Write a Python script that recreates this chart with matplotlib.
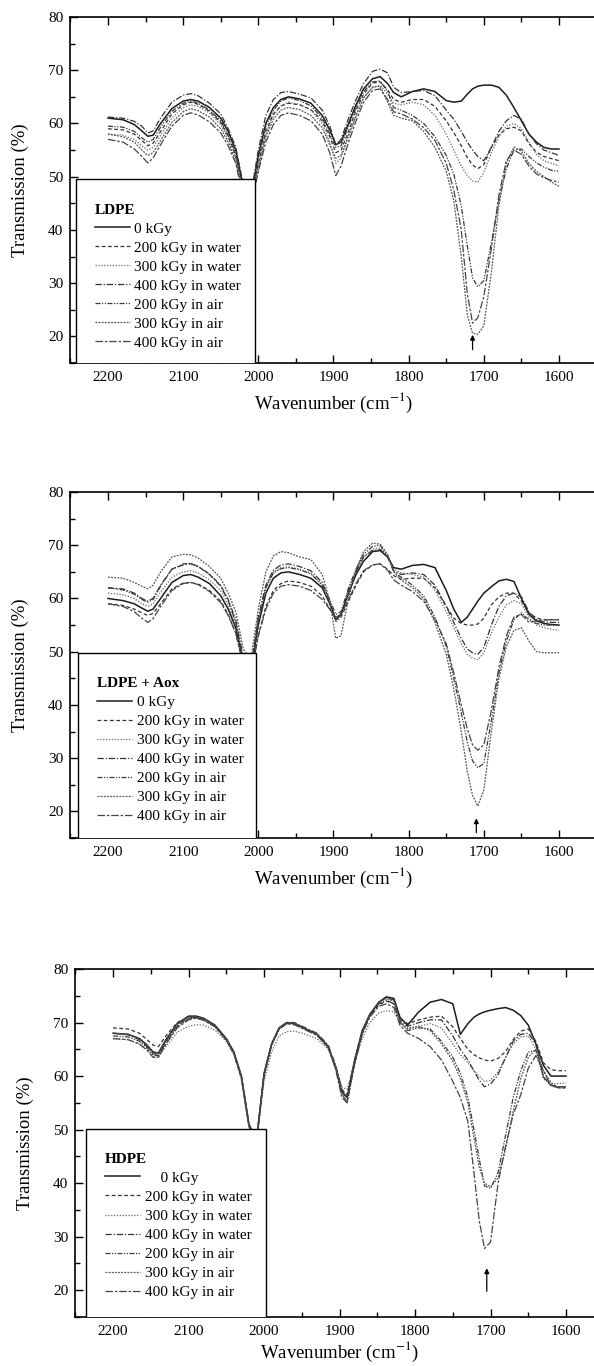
import numpy as np
import matplotlib.pyplot as plt
from matplotlib.patches import Rectangle
from matplotlib.ticker import MultipleLocator

plt.rcParams['font.family'] = ['Liberation Serif', 'DejaVu Serif']
plt.rcParams['mathtext.fontset'] = 'stix'

# abscisse commune (cm-1)
wavenumber = [2200, 2180, 2165, 2155, 2147, 2140, 2130, 2115, 2100, 2090,
              2080, 2065, 2050, 2040, 2030, 2020, 2010, 2000, 1990, 1980,
              1970, 1960, 1945, 1930, 1915, 1905, 1897, 1890, 1880, 1870,
              1860, 1848, 1838, 1828, 1820, 1810, 1795, 1780, 1765, 1750,
              1740, 1730, 1722, 1715, 1708, 1700, 1690, 1680, 1670, 1660,
              1650, 1640, 1630, 1620, 1610, 1600]

labels = ['0 kGy', '200 kGy in water', '300 kGy in water', '400 kGy in water',
          '200 kGy in air', '300 kGy in air', '400 kGy in air']
panel_titles = ['LDPE', 'LDPE + Aox', 'HDPE']

# ---- LDPE
ldpe_0 = [61.0, 60.7, 59.8, 58.6, 57.6, 57.8, 60.0, 62.8, 64.2, 64.5, 64.2, 63.0, 61.0, 58.5, 55.0, 48.0, 46.0, 54.0, 60.0, 63.0, 64.5, 65.0, 64.6, 63.8, 61.5, 58.8, 56.0, 56.5, 60.0, 63.5, 66.5, 68.4, 68.8, 67.5, 65.8, 65.0, 66.0, 66.5, 66.0, 64.3, 64.0, 64.2, 65.5, 66.5, 67.0, 67.2, 67.2, 66.8, 65.3, 63.0, 60.5, 58.0, 56.5, 55.5, 55.2, 55.2]
ldpe_200w = [59.0, 58.8, 58.0, 56.8, 55.8, 56.3, 58.5, 61.8, 63.5, 64.0, 63.6, 62.3, 60.2, 57.5, 54.0, 47.5, 45.5, 52.5, 58.5, 61.8, 63.3, 63.8, 63.5, 62.6, 60.5, 57.5, 54.5, 55.0, 58.5, 62.5, 65.5, 67.6, 67.8, 66.3, 64.5, 64.0, 64.5, 64.5, 63.2, 60.5, 58.3, 55.8, 53.6, 52.2, 51.5, 52.3, 55.5, 57.8, 59.0, 59.3, 58.6, 56.2, 54.6, 53.8, 53.4, 53.0]
ldpe_300w = [58.0, 57.8, 57.0, 55.8, 55.0, 55.5, 57.8, 61.0, 63.0, 63.5, 63.2, 62.0, 59.8, 57.0, 53.5, 47.0, 45.0, 52.0, 58.0, 61.5, 63.3, 64.0, 63.6, 62.5, 60.0, 56.5, 52.5, 53.5, 57.5, 61.5, 64.8, 66.8, 67.2, 65.5, 63.8, 63.5, 64.0, 63.5, 61.5, 58.0, 55.0, 52.0, 50.2, 49.2, 49.0, 50.8, 54.5, 57.5, 59.5, 60.0, 59.0, 56.5, 54.2, 53.0, 52.5, 52.0]
ldpe_400w = [61.2, 61.0, 60.4, 59.5, 58.2, 58.6, 61.0, 64.0, 65.3, 65.6, 65.2, 63.8, 61.8, 59.0, 55.5, 48.5, 46.5, 55.0, 61.5, 64.5, 65.8, 66.0, 65.5, 64.8, 62.5, 59.5, 56.0, 57.0, 61.0, 64.5, 67.5, 69.8, 70.2, 69.5, 66.8, 65.8, 66.0, 66.2, 65.2, 62.5, 60.8, 58.5, 56.5, 55.0, 53.8, 53.0, 55.5, 58.5, 60.5, 61.5, 60.8, 58.0, 56.2, 55.0, 54.5, 54.0]
ldpe_200a = [59.5, 59.3, 58.5, 57.3, 56.5, 57.0, 59.3, 62.3, 63.8, 64.2, 63.8, 62.5, 60.5, 57.8, 54.3, 47.5, 45.5, 53.5, 59.5, 62.5, 64.2, 64.8, 64.3, 63.3, 61.0, 58.0, 55.5, 55.8, 59.5, 63.0, 66.0, 67.8, 68.0, 66.0, 63.0, 62.5, 61.5, 60.0, 57.5, 54.0, 50.5, 44.5, 37.0, 31.0, 29.3, 30.5, 37.5, 45.5, 51.5, 55.0, 55.2, 53.8, 52.6, 51.8, 51.2, 51.0]
ldpe_300a = [58.0, 57.5, 56.5, 55.0, 54.0, 54.5, 56.8, 60.2, 62.2, 62.8, 62.4, 61.2, 59.0, 56.5, 53.0, 46.5, 44.5, 51.5, 57.5, 60.8, 62.5, 63.0, 62.6, 61.5, 59.2, 56.0, 53.5, 54.0, 57.8, 61.5, 64.8, 66.8, 67.0, 64.0, 61.5, 61.0, 60.5, 58.5, 55.5, 51.0, 45.5, 35.0, 24.0, 20.6, 20.4, 22.0, 32.0, 44.5, 52.5, 55.6, 54.8, 52.5, 51.0, 50.0, 49.0, 48.2]
ldpe_400a = [57.0, 56.5, 55.2, 53.8, 52.6, 53.5, 56.0, 59.5, 61.5, 62.0, 61.6, 60.3, 58.2, 55.8, 52.5, 46.0, 44.0, 51.0, 56.5, 59.8, 61.5, 62.0, 61.5, 60.5, 58.0, 54.5, 50.2, 52.0, 56.5, 60.5, 64.0, 66.2, 66.5, 64.5, 62.2, 61.8, 60.8, 59.2, 56.8, 52.5, 47.5, 40.0, 28.0, 22.5, 23.5, 27.5, 36.5, 46.5, 53.0, 55.0, 54.2, 52.0, 50.5, 49.8, 49.3, 49.0]

# ---- LDPE + Aox
aox_0 = [60.0, 59.6, 59.0, 58.2, 57.6, 58.0, 60.0, 63.0, 64.3, 64.5, 64.0, 62.8, 60.5, 58.0, 54.5, 48.0, 46.0, 55.0, 61.0, 63.8, 64.8, 65.0, 64.5, 63.8, 62.0, 59.0, 56.0, 57.0, 61.0, 64.5, 67.0, 68.8, 69.0, 67.8, 65.8, 65.5, 66.2, 66.4, 65.8, 61.5, 58.0, 55.5, 56.5, 58.0, 59.5, 61.0, 62.2, 63.3, 63.6, 63.2, 60.0, 57.0, 55.8, 55.3, 55.1, 55.0]
aox_200w = [59.0, 58.7, 58.0, 57.3, 56.8, 57.2, 59.0, 61.8, 62.9, 63.0, 62.7, 61.5, 59.5, 57.0, 53.5, 47.5, 45.5, 53.0, 58.5, 61.5, 62.8, 63.3, 63.0, 62.3, 60.5, 58.0, 56.0, 56.5, 59.5, 62.5, 65.0, 66.3, 66.5, 65.5, 64.3, 63.6, 63.8, 63.8, 62.0, 58.5, 56.3, 55.3, 55.0, 55.0, 55.2, 56.3, 58.8, 60.3, 61.0, 61.0, 59.5, 57.3, 56.3, 56.0, 56.0, 56.0]
aox_300w = [61.0, 60.7, 60.0, 59.0, 58.5, 59.0, 61.2, 64.0, 65.0, 65.2, 64.8, 63.5, 61.5, 58.8, 55.0, 48.5, 46.5, 56.0, 62.0, 65.0, 65.8, 66.0, 65.5, 64.8, 62.5, 59.0, 55.5, 56.5, 61.0, 65.0, 67.8, 69.3, 69.5, 68.0, 65.5, 64.8, 64.5, 64.0, 61.5, 57.5, 54.5, 51.5, 49.5, 48.8, 48.5, 49.8, 53.5, 56.5, 58.8, 59.6, 59.0, 56.5, 55.0, 54.5, 54.2, 54.0]
aox_400w = [62.0, 61.8, 61.0, 60.0, 59.5, 60.0, 62.5, 65.5, 66.3, 66.5, 66.0, 64.5, 62.3, 59.5, 55.5, 48.5, 46.5, 56.5, 62.5, 65.3, 66.3, 66.5, 66.0, 65.2, 63.0, 59.5, 56.0, 57.0, 61.5, 65.0, 67.8, 69.0, 69.2, 67.8, 65.2, 64.5, 64.8, 64.5, 62.5, 58.5, 55.5, 52.5, 50.5, 49.8, 49.5, 50.8, 55.0, 58.5, 60.5, 61.0, 60.3, 57.5, 56.0, 55.6, 55.5, 55.5]
aox_200a = [62.0, 61.6, 60.8, 59.8, 59.3, 59.8, 62.3, 65.5, 66.5, 66.6, 66.0, 64.6, 62.5, 59.8, 56.0, 49.0, 47.0, 56.0, 62.0, 64.8, 65.6, 65.8, 65.4, 64.6, 62.5, 59.8, 57.0, 57.5, 62.0, 65.5, 68.3, 69.8, 70.0, 68.0, 65.0, 64.0, 62.5, 60.5, 56.5, 51.0, 45.0, 38.5, 33.0, 29.5, 28.2, 29.0, 37.0, 46.0, 52.0, 56.0, 57.3, 56.0, 55.3, 55.0, 55.0, 55.0]
aox_300a = [64.0, 63.8, 63.0, 62.3, 61.8, 62.5, 65.0, 67.8, 68.3, 68.2, 67.6, 66.0, 63.8, 61.0, 57.5, 50.5, 48.5, 58.0, 65.0, 68.0, 68.8, 68.6, 67.8, 67.3, 64.5, 59.5, 52.5, 53.0, 60.0, 65.5, 68.8, 70.4, 70.2, 68.3, 65.0, 63.5, 62.0, 60.0, 55.5, 49.5, 43.0, 35.0, 27.5, 23.0, 21.0, 24.0, 35.0, 45.0, 51.0, 54.0, 54.5, 52.0, 50.0, 49.8, 49.8, 49.8]
aox_400a = [59.0, 58.5, 57.5, 56.3, 55.5, 56.2, 58.5, 61.5, 62.8, 63.0, 62.6, 61.3, 59.2, 56.8, 53.5, 47.5, 45.5, 53.0, 58.0, 61.0, 62.3, 62.6, 62.3, 61.5, 59.8, 58.0, 56.5, 57.0, 59.8, 62.8, 65.2, 66.3, 66.5, 65.3, 63.5, 62.5, 61.3, 59.5, 56.0, 51.5, 46.0, 40.0, 35.5, 32.5, 31.5, 32.5, 39.0, 47.0, 53.0, 56.5, 57.0, 55.5, 55.8, 56.0, 56.0, 56.0]

# ---- HDPE
hdpe_0 = [68.0, 67.8, 67.0, 65.8, 64.5, 64.3, 66.8, 69.8, 71.2, 71.2, 70.8, 69.5, 67.0, 64.5, 60.0, 51.0, 48.0, 60.5, 66.0, 69.0, 70.0, 69.8, 68.8, 67.8, 65.5, 61.5, 57.0, 56.0, 63.0, 68.5, 71.5, 73.8, 74.8, 74.5, 71.0, 69.5, 72.0, 73.8, 74.3, 73.5, 67.8, 69.8, 71.0, 71.6, 72.0, 72.3, 72.6, 72.8, 72.3, 71.3, 69.5, 66.0, 62.0, 60.0, 60.0, 60.0]
hdpe_200w = [69.0, 68.8, 68.0, 66.8, 65.8, 65.5, 67.5, 70.0, 71.0, 71.0, 70.6, 69.3, 66.8, 64.2, 59.5, 50.5, 47.5, 60.0, 65.8, 68.8, 69.8, 69.8, 68.8, 67.8, 65.3, 61.5, 57.5, 56.5, 63.0, 68.3, 71.2, 73.3, 74.0, 73.5, 70.8, 69.8, 70.5, 71.0, 71.2, 69.2, 67.0, 65.0, 64.0, 63.4, 63.0, 62.8, 63.3, 64.6, 66.8, 68.4, 68.8, 66.5, 62.5, 61.2, 61.0, 61.0]
hdpe_300w = [67.0, 66.8, 66.0, 65.0, 63.8, 63.5, 65.5, 68.2, 69.3, 69.6, 69.5, 68.6, 66.5, 64.0, 59.5, 50.5, 47.5, 59.0, 64.5, 67.5, 68.3, 68.4, 67.8, 67.0, 65.0, 61.5, 58.0, 57.5, 62.5, 67.0, 70.0, 71.8, 72.2, 72.0, 70.0, 69.0, 69.3, 69.8, 69.0, 66.0, 64.0, 62.5, 61.0, 60.0, 59.0, 59.2, 60.8, 63.5, 66.0, 67.3, 67.5, 65.0, 59.5, 58.5, 58.6, 58.7]
hdpe_400w = [68.0, 67.7, 66.8, 65.5, 64.2, 64.0, 66.5, 69.5, 70.8, 71.0, 70.7, 69.5, 67.0, 64.5, 60.0, 51.0, 48.0, 60.5, 66.0, 69.0, 70.0, 70.0, 69.0, 68.0, 65.8, 62.0, 57.5, 56.0, 62.5, 68.0, 71.5, 73.8, 74.6, 74.2, 70.5, 69.3, 70.0, 70.5, 70.5, 67.5, 65.0, 63.0, 61.0, 59.2, 58.0, 58.5, 60.3, 63.5, 66.5, 67.8, 68.0, 66.0, 59.8, 58.3, 58.0, 58.0]
hdpe_200a = [67.5, 67.3, 66.5, 65.3, 64.0, 63.8, 66.2, 69.3, 70.7, 70.9, 70.5, 69.3, 66.8, 64.3, 59.8, 50.8, 47.8, 60.3, 65.8, 68.8, 69.8, 69.8, 68.8, 67.8, 65.5, 61.5, 56.5, 55.3, 62.5, 68.0, 71.3, 73.5, 74.2, 73.5, 70.0, 68.5, 69.0, 68.8, 66.5, 63.5, 60.5, 56.0, 50.0, 44.5, 39.5, 39.0, 42.0, 49.0, 56.0, 61.0, 64.5, 64.8, 60.0, 58.2, 58.0, 58.0]
hdpe_300a = [68.0, 67.8, 67.0, 65.8, 64.5, 64.3, 66.8, 69.8, 71.0, 71.1, 70.7, 69.4, 66.9, 64.4, 60.0, 51.0, 48.0, 60.5, 66.0, 69.0, 70.0, 69.9, 68.9, 67.9, 65.6, 61.8, 56.8, 55.0, 62.5, 68.2, 71.5, 73.8, 74.5, 74.0, 70.3, 68.8, 69.3, 68.5, 66.0, 62.8, 59.5, 55.0, 48.5, 43.0, 40.0, 39.3, 41.0, 46.5, 53.5, 59.5, 63.5, 65.0, 61.0, 58.8, 57.8, 57.8]
hdpe_400a = [67.0, 66.8, 66.0, 64.8, 63.5, 63.5, 66.0, 69.0, 70.5, 70.8, 70.4, 69.2, 66.7, 64.2, 59.7, 50.7, 47.7, 60.2, 65.8, 68.8, 69.8, 69.6, 68.6, 67.6, 65.3, 61.2, 56.0, 55.0, 62.2, 67.8, 71.0, 73.0, 73.5, 72.8, 69.5, 68.0, 67.0, 65.5, 63.0, 59.0, 56.0, 51.5, 42.0, 33.0, 27.8, 29.0, 40.0, 47.0, 52.8, 56.5, 61.5, 63.8, 61.0, 58.2, 57.8, 57.8]

panels = [
    [ldpe_0, ldpe_200w, ldpe_300w, ldpe_400w, ldpe_200a, ldpe_300a, ldpe_400a],
    [aox_0, aox_200w, aox_300w, aox_400w, aox_200a, aox_300a, aox_400a],
    [hdpe_0, hdpe_200w, hdpe_300w, hdpe_400w, hdpe_200a, hdpe_300a, hdpe_400a],
]

# fleche du pic carbonyle
arrow_x = [1715, 1710, 1705]
arrow_y = [(17.5, 20.3), (16.0, 18.7), (19.8, 24.1)]

# cadre de legende (wavenumber gauche, droite, haut)
box_left = [2243, 2240, 2236]
box_right = [2005, 2003, 1998]
box_top = [49.5, 49.8, 50.2]

# styles des courbes
styles = ['-', (0, (3, 2)), (0, (1, 1.3)), (0, (5, 1.5, 1, 1.5)),
          (0, (4, 1.2, 1, 1.2, 1, 1.2)), (0, (1.5, 1)), (0, (6, 1.5, 2, 1.5))]
colors = ['#1c1c1c', '#333333', '#666666', '#333333', '#3a3a3a', '#555555', '#444444']
widths = [1.1, 0.9, 0.9, 0.9, 0.9, 0.9, 0.9]

# position des axes en pixels (gauche, haut, bas, px par cm-1) ; figure 594x1366
W, H = 594.0, 1366.0
axes_px = [(70.4, 17, 363, 0.7517), (70.4, 492, 838, 0.7517), (75.3, 969, 1317, 0.755)]
xlabel_pad = [5, 5, 1]

fig = plt.figure(figsize=(W / 100, H / 100), dpi=100)

for k in range(3):
    left, top, bot, ppu = axes_px[k]
    width = 700 * ppu
    ax = fig.add_axes([left / W, 1 - bot / H, width / W, (bot - top) / H])
    lines = []
    for i in range(7):
        l, = ax.plot(wavenumber, panels[k][i], linestyle=styles[i], color=colors[i],
                     lw=widths[i], label=labels[i], zorder=2)
        lines.append(l)

    ax.set_xlim(2250, 1550)
    ax.set_ylim(15, 80)
    ax.xaxis.set_major_locator(MultipleLocator(100))
    ax.xaxis.set_minor_locator(MultipleLocator(50))
    ax.yaxis.set_major_locator(MultipleLocator(10))
    ax.yaxis.set_minor_locator(MultipleLocator(5))
    ax.set_yticks([20, 30, 40, 50, 60, 70, 80])
    ax.tick_params(which='both', direction='in', top=True, right=False, labelsize=11)
    ax.tick_params(which='major', length=6, width=1)
    ax.tick_params(which='minor', length=3.5, width=1)
    ax.tick_params(axis='x', pad=6)
    ax.tick_params(axis='y', pad=5)
    ax.spines['right'].set_visible(False)
    for s in ['left', 'bottom', 'top']:
        ax.spines[s].set_linewidth(1.2)

    ax.set_xlabel('Wavenumber (cm$^{-1}$)', fontsize=13.5, labelpad=xlabel_pad[k])
    ax.set_ylabel('Transmission (%)', fontsize=13.5)
    ax.yaxis.set_label_coords(-0.078, 0.5)

    # fleche
    ax.annotate('', xy=(arrow_x[k], arrow_y[k][1]), xytext=(arrow_x[k], arrow_y[k][0]),
                arrowprops=dict(arrowstyle='-|>', lw=0.9, color='k',
                                mutation_scale=7, shrinkA=0, shrinkB=0))

    # cadre blanc de la legende
    rect = Rectangle((box_right[k], 14), box_left[k] - box_right[k], box_top[k] - 14,
                     facecolor='white', edgecolor='black', lw=1.0, zorder=5)
    ax.add_patch(rect)

    labs = list(labels)
    if k == 2:
        labs[0] = '    0 kGy'
    leg = ax.legend(lines, labs, title=panel_titles[k], loc='upper left',
                    bbox_to_anchor=(box_left[k], box_top[k] - 0.95), bbox_transform=ax.transData,
                    frameon=False, fontsize=11, borderaxespad=0, borderpad=1.25,
                    handlelength=2.3, handletextpad=0.3, labelspacing=0.35,
                    alignment='left',
                    title_fontproperties={'weight': 'bold', 'size': 11,
                                          'family': 'Liberation Serif'})
    leg.set_zorder(6)

fig.savefig('out.png', dpi=100)
